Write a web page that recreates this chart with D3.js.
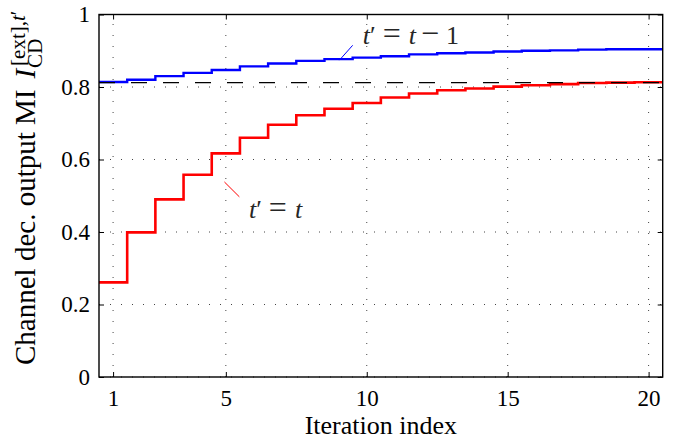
<!DOCTYPE html>
<html>
<head>
<meta charset="utf-8">
<script src="https://cdn.jsdelivr.net/npm/d3@7"></script>
<style>
  body { margin: 0; background: #fff; }
  svg text { font-family: 'Liberation Serif', 'Times New Roman', serif !important; }
</style>
</head>
<body>
<script>
// Iteration indices (x categories)
var iterations = [1, 2, 3, 4, 5, 6, 7, 8, 9, 10, 11, 12, 13, 14, 15, 16, 17, 18, 19, 20];

// Channel decoder output MI, t' = t (red)
var miSameIter = [0.261, 0.399, 0.490, 0.558, 0.617, 0.660, 0.696, 0.722, 0.740, 0.756,
                  0.771, 0.782, 0.791, 0.796, 0.801, 0.805, 0.808, 0.811, 0.812, 0.813];

// Channel decoder output MI, t' = t - 1 (blue)
var miPrevIter = [0.814, 0.820, 0.830, 0.839, 0.847, 0.857, 0.865, 0.872, 0.877, 0.881,
                  0.885, 0.890, 0.893, 0.895, 0.898, 0.900, 0.901, 0.903, 0.904, 0.904];

// Limit (dashed line)
var miLimit = 0.812;

var xTicks = [1, 5, 10, 15, 20];
var yTicks = [0, 0.2, 0.4, 0.6, 0.8, 1];

function drawChart() {
    var width = 681,
        height = 440;
    var pL = 99, pR = 662.7, pT = 14.5, pB = 377;

    var svg = d3.select("body").append("svg")
        .attr("width", width)
        .attr("height", height);

    var x = d3.scaleLinear().domain([0.5, 20.5]).range([pL, pR]);
    var y = d3.scaleLinear().domain([0, 1]).range([pB, pT]);

    // Dotted grid
    var grid = svg.append("g")
        .attr("stroke", "#444")
        .attr("stroke-width", 1)
        .attr("stroke-dasharray", "1,10");
    grid.selectAll("line.h")
        .data(yTicks)
        .join("line")
        .attr("class", "h")
        .attr("x1", pL).attr("x2", pR)
        .attr("y1", function(d) { return y(d); })
        .attr("y2", function(d) { return y(d); });
    grid.selectAll("line.v")
        .data(xTicks)
        .join("line")
        .attr("class", "v")
        .attr("y1", pB).attr("y2", pT)
        .attr("x1", function(d) { return x(d); })
        .attr("x2", function(d) { return x(d); });

    // Stairs: each iteration value is held from i-0.5 to i+0.5
    function stairs(vals) {
        var pts = vals.map(function(v, i) { return [iterations[i] - 0.5, v]; });
        pts.push([iterations[iterations.length - 1] + 0.5, vals[vals.length - 1]]);
        return pts;
    }
    var line = d3.line()
        .x(function(d) { return x(d[0]); })
        .y(function(d) { return y(d[1]); })
        .curve(d3.curveStepAfter);

    svg.append("path")
        .attr("d", line(stairs(miSameIter)))
        .attr("fill", "none")
        .attr("stroke", "#ff0000")
        .attr("stroke-width", 2.6);

    svg.append("path")
        .attr("d", line(stairs(miPrevIter)))
        .attr("fill", "none")
        .attr("stroke", "#0000ff")
        .attr("stroke-width", 2.4);

    svg.append("line")
        .attr("x1", pL).attr("x2", pR)
        .attr("y1", y(miLimit)).attr("y2", y(miLimit))
        .attr("stroke", "#000")
        .attr("stroke-width", 1.1)
        .attr("stroke-dasharray", "16,16");

    // Axes, ticks point inward on all four sides
    function styleAxis(g) {
        g.select(".domain").remove();
        g.attr("font-size", 23);
        g.selectAll("text").attr("fill", "#000");
        g.selectAll("line").attr("stroke", "#000");
    }
    svg.append("g")
        .attr("transform", "translate(0," + pB + ")")
        .call(d3.axisBottom(x).tickValues(xTicks).tickSize(-5).tickPadding(13))
        .call(styleAxis);
    svg.append("g")
        .attr("transform", "translate(0," + pT + ")")
        .call(d3.axisTop(x).tickValues(xTicks).tickSize(-5).tickFormat(""))
        .call(styleAxis);
    svg.append("g")
        .attr("transform", "translate(" + pL + ",0)")
        .call(d3.axisLeft(y).tickValues(yTicks).tickSize(-5).tickPadding(9)
            .tickFormat(function(d) { return String(d); }))
        .call(styleAxis);
    svg.append("g")
        .attr("transform", "translate(" + pR + ",0)")
        .call(d3.axisRight(y).tickValues(yTicks).tickSize(-5).tickFormat(""))
        .call(styleAxis);

    svg.append("rect")
        .attr("x", pL).attr("y", pT)
        .attr("width", pR - pL).attr("height", pB - pT)
        .attr("fill", "none")
        .attr("stroke", "#000")
        .attr("stroke-width", 1.4);

    // X label
    svg.append("text")
        .attr("x", (pL + pR) / 2)
        .attr("y", 434)
        .attr("text-anchor", "middle")
        .attr("font-size", 26)
        .text("Iteration index");

    // Y label with I_CD^{[ext],t'}
    var yl = svg.append("g").attr("transform", "translate(35,365) rotate(-90)");
    var ylMain = yl.append("text")
        .attr("font-size", 29)
        .text("Channel dec. output MI");
    var w0 = ylMain.node().getComputedTextLength();
    var ylI = yl.append("text")
        .attr("x", w0 + 11)
        .attr("font-size", 29)
        .attr("font-style", "italic")
        .text("I");
    var wI = ylI.node().getComputedTextLength();
    var sup = yl.append("text")
        .attr("x", w0 + 11 + wI + 3)
        .attr("y", -10)
        .attr("font-size", 21);
    sup.append("tspan").text("[ext],");
    sup.append("tspan").attr("font-style", "italic").text("t");
    sup.append("tspan").text("\u2032");
    yl.append("text")
        .attr("x", w0 + 11 + wI + 1)
        .attr("y", 7)
        .attr("font-size", 21)
        .text("CD");

    // Annotations
    function mathLabel(xv, yv, rhs) {
        var t = svg.append("text")
            .attr("x", x(xv)).attr("y", y(yv))
            .attr("font-size", 26)
            .attr("fill", "#262626");
        t.append("tspan").attr("font-style", "italic").text("t");
        t.append("tspan").text("\u2032");
        t.append("tspan").attr("dx", 7).attr("font-size", 32).text("=");
        t.append("tspan").attr("dx", 8).attr("font-style", "italic").text("t");
        if (rhs) {
            t.append("tspan").attr("dx", 5).attr("font-size", 32).text("\u2212");
            t.append("tspan").attr("dx", 7).text(rhs);
        }
    }
    svg.append("line")
        .attr("x1", x(9.03)).attr("y1", y(0.874))
        .attr("x2", x(9.5)).attr("y2", y(0.915))
        .attr("stroke", "#0000ff").attr("stroke-width", 1);
    mathLabel(9.86, 0.92, "1");

    svg.append("line")
        .attr("x1", x(4.95)).attr("y1", y(0.538))
        .attr("x2", x(5.48)).attr("y2", y(0.497))
        .attr("stroke", "#ff0000").attr("stroke-width", 1);
    mathLabel(5.82, 0.439, null);
}

drawChart();
</script>
</body>
</html>
